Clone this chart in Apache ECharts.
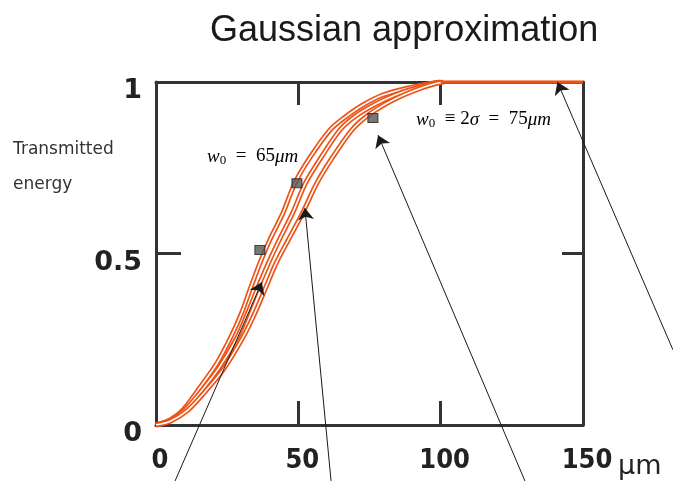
<!DOCTYPE html>
<html>
<head>
<meta charset="utf-8">
<script src="https://cdn.jsdelivr.net/npm/echarts@6/dist/echarts.min.js"></script>
<style>
  html, body { margin: 0; padding: 0; background: #fff; }
  #chart { width: 673px; height: 481px; }
</style>
</head>
<body>
<div id="chart"></div>
<script>
// Transmitted energy vs. aperture radius (µm), three beam waists
const curveA = [[0,0],[5,0.015],[9.5,0.044],[15.5,0.11],[21.4,0.18],[26.5,0.26],[30,0.325],[33,0.394],[36.5,0.472],[40,0.54],[44.6,0.618],[48.8,0.705],[54.1,0.78],[61.1,0.86],[66,0.895],[72.7,0.933],[79.7,0.962],[88.2,0.982],[96,0.995],[100,1]];
const curveB = [[0,0],[5,0.013],[10,0.042],[16,0.1],[22,0.165],[28.5,0.255],[32,0.322],[35.5,0.394],[39.5,0.472],[43.3,0.54],[48,0.618],[52.5,0.705],[58,0.78],[64.6,0.86],[70,0.9],[77,0.935],[84,0.962],[91,0.982],[97,0.995],[100,1]];
const curveC = [[0,0],[5,0.011],[11,0.042],[17,0.095],[23.5,0.16],[30.5,0.255],[34.5,0.322],[38.2,0.394],[42.2,0.472],[46.5,0.54],[51.5,0.618],[56.5,0.705],[62,0.78],[68.8,0.86],[74,0.9],[80.5,0.935],[87,0.962],[93,0.982],[98,0.995],[101,1]];
const plateau = [[100,1],[150,1]];

// highlighted points on the curves
const markerX = [36.5, 49.5, 76.2];
const markerY = [0.51, 0.705, 0.895];

// pointer arrows: tail -> head, in axis units
const arrowTails = [[6.7,-0.163],[61.5,-0.163],[129.6,-0.163],[181.6,0.219]];
const arrowHeads = [[37.2,0.417],[52.3,0.633],[78,0.845],[141,1.0]];

const xTicks = [0, 50, 100, 150];
const yTicks = [0, 0.5, 1];

const ORANGE = '#ec5316';
const FRAME = '#333';

function tubeSeries(data, z) {
  return [
    { type: 'line', data: data, smooth: 0.3, symbol: 'none', z: z,
      lineStyle: { color: ORANGE, width: 5 } },
    { type: 'line', data: data, smooth: 0.3, symbol: 'none', z: z + 1,
      lineStyle: { color: '#fff', width: 1.6 } }
  ];
}

const chart = echarts.init(document.getElementById('chart'), null, { renderer: 'canvas' });

const frameAxis = (extra) => Object.assign({
  type: 'value',
  splitLine: { show: false },
  axisLine: { show: true, onZero: false, lineStyle: { color: FRAME, width: 3 } },
  axisTick: { show: true, inside: true, lineStyle: { color: FRAME, width: 3 } }
}, extra);

const serifRich = (size) => ({
  w: { fontFamily: 'Liberation Serif, serif', fontStyle: 'italic', fontSize: size, color: '#333', lineHeight: 22, verticalAlign: 'middle' },
  s: { fontFamily: 'Liberation Serif, serif', fontSize: size - 6, color: '#333', lineHeight: 22, verticalAlign: 'bottom' },
  t: { fontFamily: 'Liberation Serif, serif', fontSize: size, color: '#333', lineHeight: 22, verticalAlign: 'middle' }
});

chart.setOption({
  animation: false,
  backgroundColor: '#fff',
  title: {
    text: 'Gaussian approximation',
    left: 205, top: 8,
    textStyle: { fontFamily: 'Liberation Sans, Arial, sans-serif', fontWeight: 'normal', fontSize: 36, color: '#1a1a1a' }
  },
  grid: { left: 156, right: 90, top: 82, bottom: 56 },
  xAxis: [
    frameAxis({
      position: 'bottom', min: xTicks[0], max: xTicks[xTicks.length - 1], interval: 50,
      axisTick: { show: true, inside: true, length: 24, lineStyle: { color: FRAME, width: 3 } },
      axisLabel: {
        margin: 22, color: '#222', fontSize: 27, fontWeight: 'bold',
        fontFamily: 'DejaVu Sans Condensed, DejaVu Sans, sans-serif',
        padding: [0, 0, 0, 8]
      }
    }),
    frameAxis({
      position: 'top', min: xTicks[0], max: xTicks[xTicks.length - 1], interval: 50,
      axisTick: { show: true, inside: true, length: 23, lineStyle: { color: FRAME, width: 3 } },
      axisLabel: { show: false }
    })
  ],
  yAxis: [
    frameAxis({
      position: 'left', min: yTicks[0], max: yTicks[yTicks.length - 1], interval: 0.5,
      axisTick: { show: true, inside: true, length: 25, lineStyle: { color: FRAME, width: 3 } },
      axisLabel: {
        margin: 14, color: '#222', fontSize: 27, fontWeight: 'bold',
        fontFamily: 'DejaVu Sans, sans-serif', verticalAlign: 'top', lineHeight: 18
      }
    }),
    frameAxis({
      position: 'right', min: yTicks[0], max: yTicks[yTicks.length - 1], interval: 0.5,
      axisTick: { show: true, inside: true, length: 21, lineStyle: { color: FRAME, width: 3 } },
      axisLabel: { show: false }
    })
  ],
  series: [
    ...tubeSeries(curveA, 2),
    ...tubeSeries(curveB, 4),
    ...tubeSeries(curveC, 6),
    { type: 'line', data: plateau, symbol: 'none', z: 8,
      lineStyle: { color: ORANGE, width: 3.5 } },
    { type: 'scatter', z: 9, symbol: 'rect', symbolSize: [10, 9],
      data: markerX.map((x, i) => [x, markerY[i]]),
      itemStyle: { color: '#555', borderColor: '#222', borderWidth: 1 } },
    { type: 'lines', coordinateSystem: 'cartesian2d', z: 10, clip: false,
      symbol: ['none', 'arrow'], symbolSize: [0, 12],
      lineStyle: { color: '#1a1a1a', width: 1, opacity: 1 },
      data: arrowTails.map((t, i) => ({ coords: [t, arrowHeads[i]] })) }
  ],
  graphic: [
    { type: 'text', left: 618, top: 453,
      style: { text: 'μm', font: 'normal 27px "DejaVu Sans", sans-serif', fill: '#222' } },
    { type: 'text', left: 13, top: 141,
      style: { text: 'Transmitted', font: 'normal 17px "DejaVu Sans", sans-serif', fill: '#333' } },
    { type: 'text', left: 13, top: 176,
      style: { text: 'energy', font: 'normal 17px "DejaVu Sans", sans-serif', fill: '#333' } },
    { type: 'text', left: 207, top: 147,
      style: { text: '{w|w}{s|0}{t|  =  65}{w|μm}', rich: serifRich(19) } },
    { type: 'text', left: 416, top: 110,
      style: { text: '{w|w}{s|0}{t|  ≡ 2}{w|σ}{t|  =  75}{w|μm}', rich: serifRich(19) } }
  ]
});
</script>
</body>
</html>
